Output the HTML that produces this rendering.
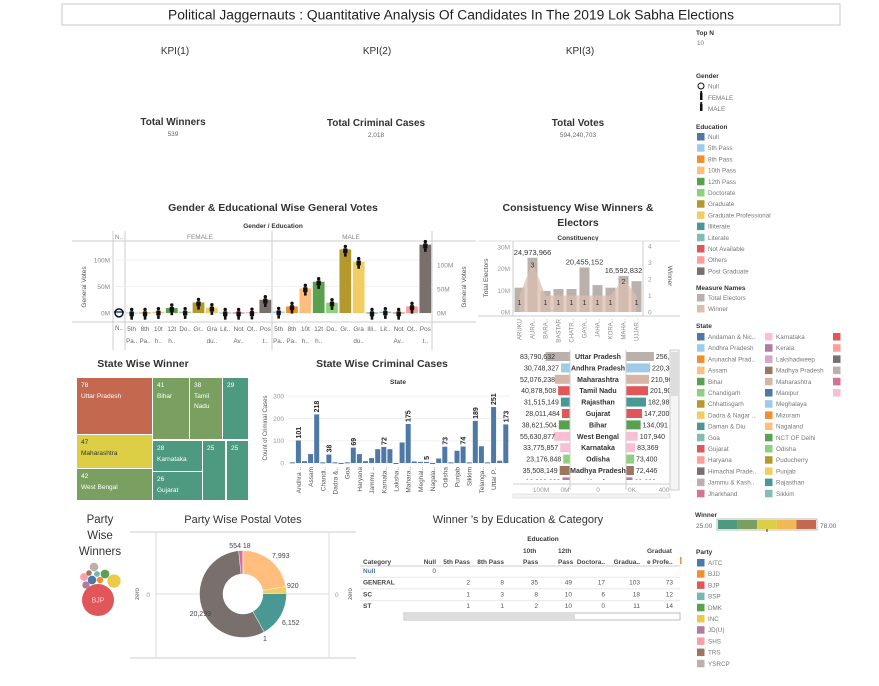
<!DOCTYPE html>
<html><head><meta charset="utf-8">
<style>
html,body{margin:0;padding:0;background:#fff;}
svg{display:block;font-family:"Liberation Sans",sans-serif;}
</style></head>
<body>
<svg id="dash" width="879" height="686" viewBox="0 0 879 686" xmlns="http://www.w3.org/2000/svg">
<rect width="879" height="686" fill="#fff"/>
<g>
<rect x="62" y="4" width="778" height="21" fill="#fff" stroke="#c8c8c8"/>
<text x="451" y="19.5" font-size="13.5" text-anchor="middle" fill="#222" textLength="566" lengthAdjust="spacingAndGlyphs">Political Jaggernauts : Quantitative Analysis Of Candidates In The 2019 Lok Sabha Elections</text>
</g>
<g fill="#333" text-anchor="middle">
<text x="175" y="54" font-size="10">KPI(1)</text>
<text x="377" y="54" font-size="10">KPI(2)</text>
<text x="580" y="54" font-size="10">KPI(3)</text>
<text x="173" y="125" font-size="10" font-weight="bold">Total Winners</text>
<text x="173" y="136" font-size="6.5" fill="#666">539</text>
<text x="376" y="126" font-size="10" font-weight="bold">Total Criminal Cases</text>
<text x="376" y="137" font-size="6.5" fill="#666">2,018</text>
<text x="578" y="126" font-size="10" font-weight="bold">Total Votes</text>
<text x="578" y="137" font-size="6.5" fill="#666">594,240,703</text>
</g>
<g id="gender"></g>
<g id="const"></g>
<g id="tree"></g>
<g id="crim"></g>
<g id="stab"></g>
<g id="bub"></g>
<g id="donut"></g>
<g id="ctab"></g>
<g id="leg"></g>
</svg>
<script>
// ---------- data ----------
const eduNames=["Null","5th Pass","8th Pass","10th Pass","12th Pass","Doctorate","Graduate","Graduate Professional","Illiterate","Literate","Not Available","Others","Post Graduate"];
const eduColors=["#4e79a7","#a0cbe8","#f28e2b","#ffbe7d","#59a14f","#8cd17d","#b6992d","#f1ce63","#499894","#86bcb6","#e15759","#ff9d9a","#79706e"];
const nullVotes=[4];
const femaleEdu=[1,2,3,4,5,6,7,9,10,11,12];
const femaleVotes=[1,1,2.5,9.5,2.5,20,10,1,1,1.5,25];
const maleEdu=[1,2,3,4,5,6,7,8,9,10,11,12];
const maleVotes=[3,12.5,46.5,59,19.5,120,97,1,2.5,1,12.5,129];
const femaleLabels=[["5th","Pa.."],["8th","Pa.."],["10t","h.."],["12t","h.."],["Do..",""],["Gr..",""],["Gra","du.."],["Lit..",""],["Not","Av.."],["Ot..",""],["Pos","t.."]];
const maleLabels=[["5th","Pa.."],["8th","Pa.."],["10t","h.."],["12t","h.."],["Do..",""],["Gr..",""],["Gra","du.."],["Illi..",""],["Lit..",""],["Not","Av.."],["Ot..",""],["Pos","t.."]];
const genderTicks=[0,50,100];

const constNames=["ARUKU","AURA..","BARA..","BASTAR","CHATR..","GAYA..","JAHA..","KORA..","MAHA..","UJJAR.."];
const constElectors=[11.2,25.0,9.7,10.6,10.6,20.5,12.4,11.2,16.6,14.2];
const constWinners=[1,3,1,1,1,1,1,1,2,1];
const constBigLabels=["","24,973,966","","","","20,455,152","","","16,592,832",""];
const electorTicks=[0,10,20,30];
const winnerTicks=[0,1,2,3,4];

const crimStates=["Andaman & Nicobar","Andhra Pradesh","Arunachal Pradesh","Assam","Bihar","Chandigarh","Chhattisgarh","Dadra & Nagar Haveli","Daman & Diu","Goa","Gujarat","Haryana","Himachal Pradesh","Jammu & Kashmir","Jharkhand","Karnataka","Kerala","Lakshadweep","Madhya Pradesh","Maharashtra","Manipur","Meghalaya","Mizoram","Nagaland","NCT OF Delhi","Odisha","Puducherry","Punjab","Rajasthan","Sikkim","Tamil Nadu","Telangana","Tripura","Uttar Pradesh","Uttarakhand","West Bengal"];
const crimCounts=[3,101,8,40,218,3,38,3,0,3,69,40,8,22,62,72,62,0,92,175,7,5,5,0,20,73,3,55,74,3,189,75,3,251,10,173];
const crimShownLabels=[1,4,6,10,15,19,22,25,28,30,33,35];
const crimAxisLabels=["Andhra ..","Assam","Chandi..","Dadra &..","Goa","Haryana","Jammu ..","Karnata..","Laksha..","Mahara..","Meghal..","Nagala..","Odisha","Punjab","Sikkim","Telanga..","Uttar P.."];
const crimTicks=[0,100,200,300];

const tabStates=["Uttar Pradesh","Andhra Pradesh","Maharashtra","Tamil Nadu","Rajasthan","Gujarat","Bihar","West Bengal","Karnataka","Odisha","Madhya Pradesh","Kerala"];
const tabElectors=[83790632,30748327,52076238,40878508,31515149,28011484,38621504,55630877,33775857,23176848,35508149,26000000];
const tabVotes=[256000,220300,210900,201900,182980,147200,134091,107940,83369,73400,72446,60000];
const tabColors=["#bab0ac","#a0cbe8","#d7b5a6","#e15759","#499894","#e15759","#59a14f","#fabfd2","#fabfd2","#8cd17d","#9d7660","#b07aa1"];

const treeNames=["Uttar Pradesh","Maharashtra","West Bengal","Bihar","Tamil Nadu","","Karnataka","Gujarat","",""];
const treeValues=[78,47,42,41,38,29,28,26,25,25];

const bubParties=["BJP","INC","YSRCP","SHS","TRS","BSP","DMK","AITC","BJD","JD(U)"];
const bubWinners=[303,52,22,18,9,10,23,22,12,16];
const bubColors=["#e15759","#edc948","#bab0ac","#ff9da7","#9c755f","#76b7b2","#59a14f","#4e79a7","#f28e2b","#b07aa1"];

const postalParts=["A","B","C","D","E","F","G"];
const postalValues=[7993,920,6152,1,20299,554,18];
const postalColors=["#ffbe7d","#f1ce63","#499894","#4e79a7","#79706e","#d37295","#e15759"];

const catRows=["Null","GENERAL","SC","ST"];
const catCols=["Null","5th Pass","8th Pass","10th Pass","12th Pass","Doctora..","Gradua..","Graduate Profe.."];
const catNull=[0,null,null,null];
const cat5th=[null,2,1,1];
const cat8th=[null,8,3,1];
const cat10th=[null,35,8,2];
const cat12th=[null,49,10,10];
const catDoc=[null,17,6,0];
const catGrad=[null,103,18,11];
const catGP=[null,73,12,14];

// ---------- helpers ----------
const NS="http://www.w3.org/2000/svg";
function mk(parent,tag,attrs,txt){const e=document.createElementNS(NS,tag);for(const k in attrs)e.setAttribute(k,attrs[k]);if(txt!==undefined)e.textContent=txt;parent.appendChild(e);return e;}
function tx(p,x,y,s,size,fill,anchor,extra){const a=Object.assign({x:x,y:y,'font-size':size,fill:fill||'#555','text-anchor':anchor||'start'},extra||{});return mk(p,'text',a,s);}
function fmt(n){return n.toLocaleString('en-US');}

// ---------- gender chart ----------
(function(){
const g=document.getElementById('gender');
tx(g,273,211,"Gender & Educational Wise General Votes",10.5,'#333','middle',{'font-weight':'bold'});
tx(g,273,228,"Gender / Education",6.5,'#333','middle',{'font-weight':'bold'});
const y=v=>313-v*0.53, yR=v=>313-v*0.48;
mk(g,'line',{x1:72,y1:241,x2:476,y2:241,stroke:'#ccc'});
mk(g,'line',{x1:72,y1:322,x2:476,y2:322,stroke:'#ccc'});
[113,125,272,432].forEach(x=>mk(g,'line',{x1:x,y1:231,x2:x,y2:350,stroke:'#ccc'}));
tx(g,119,239,"N..",6.5,'#888','middle');
tx(g,200,239,"FEMALE",6.5,'#888','middle');
tx(g,351,239,"MALE",6.5,'#888','middle');
genderTicks.forEach(t=>{mk(g,'line',{x1:113,x2:432,y1:y(t),y2:y(t),stroke:'#f0f0f0'});tx(g,110,y(t)+2.5,t+"M",6.5,'#888','end');tx(g,437,yR(t)+2.5,t+"M",6.5,'#888','start');});
tx(g,0,0,"General Votes",6.5,'#555','middle',{transform:'translate(86,287) rotate(-90)'});
tx(g,0,0,"General Votes",6.5,'#555','middle',{transform:'translate(466,287) rotate(-90)'});
function person(cx,yt){mk(g,'circle',{cx:cx,cy:yt-4,r:1.7,fill:'#111'});mk(g,'rect',{x:cx-2.2,y:yt-2.2,width:4.4,height:5.2,rx:1,fill:'#111'});mk(g,'rect',{x:cx-1.3,y:yt+3,width:2.6,height:3.2,fill:'#111'});}
const nb=mk(g,'rect',{x:114,y:y(nullVotes[0]),width:10,height:313-y(nullVotes[0]),fill:eduColors[0]});


mk(g,'circle',{cx:119,cy:y(nullVotes[0])+2,r:4,fill:'none',stroke:'#111','stroke-width':1.5});
tx(g,119,330,"N..",6.3,'#666','middle');
function series(edu,vals,labels,x0,w,gender){vals.forEach((v,i)=>{const cx=x0+w*(i+0.5);const r=mk(g,'rect',{x:cx-w/2+0.8,y:y(v),width:w-1.6,height:Math.max(313-y(v),1),fill:eduColors[edu[i]]});


person(cx,y(v)+1);tx(g,cx,331,labels[i][0],6.3,'#666','middle');tx(g,cx,343,labels[i][1],6.3,'#666','middle');});}
series(femaleEdu,femaleVotes,femaleLabels,125,147/11,'female');
series(maleEdu,maleVotes,maleLabels,272,160/12,'male');
})();

// ---------- constituency ----------
(function(){
const g=document.getElementById('const');
tx(g,578,211,"Consistuency Wise Winners &",10.5,'#333','middle',{'font-weight':'bold'});
tx(g,578,226,"Electors",10.5,'#333','middle',{'font-weight':'bold'});
tx(g,578,240,"Constituency",6.5,'#333','middle',{'font-weight':'bold'});
const yE=v=>312-v*2.17, yW=v=>312-v*16.5, cx=i=>513+13*(i+0.5);
mk(g,'line',{x1:513,y1:241,x2:513,y2:316,stroke:'#ccc'});
mk(g,'line',{x1:643,y1:241,x2:643,y2:316,stroke:'#ccc'});
mk(g,'line',{x1:478,y1:241,x2:680,y2:241,stroke:'#ddd'});
mk(g,'line',{x1:478,y1:316,x2:680,y2:316,stroke:'#ccc'});
electorTicks.forEach(t=>tx(g,510,yE(t)+2.5,t+"M",6.5,'#999','end'));
winnerTicks.forEach(t=>tx(g,648,yW(t)+2.5,String(t),6.5,'#999','start'));
tx(g,0,0,"Total Electors",6.5,'#555','middle',{transform:'translate(488,278) rotate(-90)'});
tx(g,0,0,"Winner",6.5,'#555','middle',{transform:'translate(668,276) rotate(90)'});
constElectors.forEach((v,i)=>{const r=mk(g,'rect',{x:cx(i)-5,y:yE(v),width:10,height:312-yE(v),fill:'#bab0ac'});

});
let d="M"+cx(0)+",312";constWinners.forEach((v,i)=>d+=" L"+cx(i)+","+yW(v));d+=" L"+cx(constWinners.length-1)+",312 Z";
const a=mk(g,'path',{d:d,fill:'#dcbfb1','fill-opacity':0.75});


constWinners.forEach((v,i)=>{tx(g,cx(i),v>1?yW(v)+5:305,String(v),7,'#333','middle');});
constBigLabels.forEach((s,i)=>{if(s)tx(g,cx(i),yE(constElectors[i])-3,s,7.5,'#333','middle');});
constNames.forEach((s,i)=>tx(g,0,0,s,6,'#888','end',{transform:'translate('+(cx(i)+2)+',319) rotate(-90)'}));
})();

// ---------- treemap ----------
(function(){
const g=document.getElementById('tree');
tx(g,143,367,"State Wise Winner",10.5,'#333','middle',{'font-weight':'bold'});
const rects=[[77,378,75,56],[77,435,75,33],[77,469,75,31],[153,378,36,61],[190,378,32,61],[223,378,25,61],[153,441,49,30],[153,472,49,28],[203,441,22,59],[227,441,21,59]];
const col=v=>{if(v>=70)return '#c4694f';if(v>=45)return '#dccf45';if(v>=35)return '#79a061';return '#4e9a81';};
treeValues.forEach((v,i)=>{const r=rects[i];const e=mk(g,'rect',{x:r[0],y:r[1],width:r[2],height:r[3],fill:col(v)});


const fc=v>=45&&v<70?'#333':'#fff';tx(g,r[0]+4,r[1]+9,String(v),6.5,fc);
if(treeNames[i]){const parts=treeNames[i]==="Tamil Nadu"?["Tamil","Nadu"]:[treeNames[i]];parts.forEach((p,k)=>tx(g,r[0]+4,r[1]+20+k*10,p,6.5,fc));}});
})();

// ---------- criminal cases ----------
(function(){
const g=document.getElementById('crim');
tx(g,382,367,"State Wise Criminal Cases",10.5,'#333','middle',{'font-weight':'bold'});
tx(g,398,384,"State",6.5,'#333','middle',{'font-weight':'bold'});
const y=v=>463-v*0.223, cx=i=>292.3+6.1*i;
crimTicks.forEach(t=>{mk(g,'line',{x1:287,x2:510,y1:y(t),y2:y(t),stroke:'#f0f0f0'});tx(g,284,y(t)+2.5,String(t),6.5,'#999','end');});
tx(g,0,0,"Count of Criminal Cases",6,'#555','middle',{transform:'translate(267,428) rotate(-90)'});
crimCounts.forEach((v,i)=>{const r=mk(g,'rect',{x:cx(i)-2.5,y:y(v),width:5,height:Math.max(463-y(v),1),fill:'#4e79a7'});

});
crimShownLabels.forEach(i=>tx(g,0,0,String(crimCounts[i]),7,'#222','start',{'font-weight':'bold',transform:'translate('+(cx(i)+2.5)+','+(y(crimCounts[i])-2)+') rotate(-90)'}));
crimAxisLabels.forEach((s,k)=>tx(g,0,0,s,6.5,'#555','end',{transform:'translate('+(cx(2*k+1)+2.5)+',467) rotate(-90)'}));
})();

// ---------- state table ----------
(function(){
const g=document.getElementById('stab');
const clip=mk(g,'clipPath',{id:'stclip'});mk(clip,'rect',{x:513,y:350,width:157,height:130});
const inner=mk(g,'g',{'clip-path':'url(#stclip)'});
mk(g,'line',{x1:570,y1:350,x2:570,y2:490,stroke:'#ccc'});
mk(g,'line',{x1:626,y1:350,x2:626,y2:490,stroke:'#ccc'});
tabStates.forEach((s,i)=>{const yc=356.5+11.4*i;const wl=tabElectors[i]/1e6*0.29;
const b=mk(inner,'rect',{x:570-wl,y:yc-4.5,width:wl,height:9,fill:tabColors[i]});


tx(inner,Math.max(570-wl-2,555),yc+2.5,fmt(tabElectors[i]),7,'#333','end');
tx(inner,598,yc+2.5,s,7,'#333','middle',{'font-weight':'bold'});
const wr=tabVotes[i]/1000*0.109;
const b2=mk(inner,'rect',{x:626,y:yc-4.5,width:wr,height:9,fill:tabColors[i]});


tx(inner,626+wr+2,yc+2.5,fmt(tabVotes[i]),7,'#333','start');});
mk(g,'line',{x1:513,y1:484,x2:670,y2:484,stroke:'#ccc'});
tx(g,541,492,"100M",6.5,'#999','middle');tx(g,565,492,"0M",6.5,'#999','middle');tx(g,598,492,"0",6.5,'#999','middle');tx(g,632,492,"0K",6.5,'#999','middle');tx(g,664,492,"400",6.5,'#999','middle');
const sb=mk(g,'rect',{x:670,y:350,width:9,height:140,fill:'#f4f4f4',stroke:'#ccc'});


mk(g,'rect',{x:671,y:352,width:7,height:44,fill:'#ddd'});
mk(g,'rect',{x:513,y:494,width:157,height:4,fill:'#f4f4f4',stroke:'#ccc','stroke-width':0.5});
})();

// ---------- bubbles ----------
(function(){
const g=document.getElementById('bub');
["Party","Wise","Winners"].forEach((s,i)=>tx(g,100,523+16*i,s,11.5,'#333','middle'));
const pos=[[98,600],[114,581],[94,567],[84,577],[89,573],[97,574],[105,574],[92,580],[100,580],[86,585]];
const rad=v=>Math.sqrt(v)*0.92;
bubWinners.forEach((v,i)=>{const c=mk(g,'circle',{cx:pos[i][0],cy:pos[i][1],r:rad(v),fill:bubColors[i]});

});
tx(g,98,602.5,"BJP",7,'#fcc','middle');
})();

// ---------- donut ----------
(function(){
const g=document.getElementById('donut');
tx(g,243,523,"Party Wise Postal Votes",11,'#333','middle');
mk(g,'line',{x1:130,y1:532,x2:356,y2:532,stroke:'#ccc'});
mk(g,'line',{x1:130,y1:658,x2:356,y2:658,stroke:'#ccc'});
mk(g,'line',{x1:156,y1:532,x2:156,y2:658,stroke:'#ddd'});
mk(g,'line',{x1:329,y1:532,x2:329,y2:658,stroke:'#ddd'});
mk(g,'line',{x1:156,y1:594,x2:329,y2:594,stroke:'#ddd'});
tx(g,150,597,"0",6.5,'#999','end');tx(g,335,597,"0",6.5,'#999','start');
tx(g,0,0,"zero",6,'#555','middle',{transform:'translate(139,594) rotate(-90)'});
tx(g,0,0,"zero",6,'#555','middle',{transform:'translate(352,594) rotate(-90)'});
const cx=243,cy=594,R=43.5,r=20;const tot=postalValues.reduce((a,b)=>a+b,0);let a0=0;
postalValues.forEach((v,i)=>{const a1=a0+v/tot*2*Math.PI;const p=(a,rr)=>[cx+rr*Math.sin(a),cy-rr*Math.cos(a)];const lg=(a1-a0)>Math.PI?1:0;
const [x0,y0]=p(a0,R),[x1,y1]=p(a1,R),[x2,y2]=p(a1,r),[x3,y3]=p(a0,r);
const s=mk(g,'path',{d:`M${x0},${y0} A${R},${R} 0 ${lg} 1 ${x1},${y1} L${x2},${y2} A${r},${r} 0 ${lg} 0 ${x3},${y3} Z`,fill:postalColors[i],stroke:'#fff','stroke-width':0.4});


a0=a1;});
mk(g,'circle',{cx:cx,cy:cy,r:r,fill:'#fff'});
tx(g,240,548,fmt(postalValues[5])+" "+fmt(postalValues[6]),7,'#444','middle');
tx(g,272,558,fmt(postalValues[0]),7,'#444','start');
tx(g,287,588,fmt(postalValues[1]),7,'#444','start');
tx(g,282,625,fmt(postalValues[2]),7,'#444','start');
tx(g,265,641,fmt(postalValues[3]),7,'#444','middle');
tx(g,211,616,fmt(postalValues[4]),7,'#444','end');
})();

// ---------- category table ----------
(function(){
const g=document.getElementById('ctab');
tx(g,518,523,"Winner \u2019s by Education & Category",11,'#333','middle');
tx(g,543,541,"Education",6.5,'#333','middle',{'font-weight':'bold'});
const ends=[436,470,504,538,572,605,640,673];
tx(g,363,564,"Category",6.5,'#444','start',{'font-weight':'bold'});
const h1=["","","","10th","12th","","","Graduat"],h2=["Null","5th Pass","8th Pass","Pass","Pass","Doctora..","Gradua..","e Profe.."];
const lefts=[null,null,null,523,558,null,null,647];
h2.forEach((s,i)=>{if(lefts[i]){tx(g,lefts[i],553,h1[i],6.5,'#444','start',{'font-weight':'bold'});tx(g,lefts[i],564,s,6.5,'#444','start',{'font-weight':'bold'});}else tx(g,ends[i],564,s,6.5,'#444','end',{'font-weight':'bold'});});
mk(g,'rect',{x:680,y:557,width:1.5,height:7,fill:'#f28e2b'});
mk(g,'line',{x1:360,y1:566,x2:680,y2:566,stroke:'#ccc'});
const cols=[catNull,cat5th,cat8th,cat10th,cat12th,catDoc,catGrad,catGP];
catRows.forEach((rn,ri)=>{const yy=573+11.7*ri;
if(ri>0)mk(g,'line',{x1:360,y1:yy-7.5,x2:680,y2:yy-7.5,stroke:'#e8e8e8'});
tx(g,363,yy,rn,6.5,ri==0?'#4e79a7':'#444','start',{'font-weight':'bold'});
cols.forEach((c,ci)=>{if(c[ri]!==null)tx(g,ends[ci],yy,String(c[ri]),6.5,'#555','end');});});
const sb=mk(g,'rect',{x:404,y:613,width:276,height:7,fill:'#fff',stroke:'#bbb'});


mk(g,'rect',{x:405,y:614,width:170,height:5,fill:'#ddd'});
})();

// ---------- legends ----------
(function(){
const g=document.getElementById('leg');
const T=(x,y,s,b)=>tx(g,x,y,s,b?6.5:6.3,b?'#333':'#777','start',b?{'font-weight':'bold'}:{});
const sw=(x,y,c,name)=>{const r=mk(g,'rect',{x:x,y:y-6,width:7.5,height:7.5,fill:c});};
T(696,35,"Top N",true);T(697,45,"10");
T(696,78,"Gender",true);
mk(g,'circle',{cx:701,cy:86,r:3,fill:'none',stroke:'#111'});T(708,88.5,"Null");
[98,109].forEach(yy=>{mk(g,'rect',{x:700,y:yy-5,width:2.5,height:7,fill:'#111'});mk(g,'circle',{cx:701.2,cy:yy-6,r:1.1,fill:'#111'});});
T(708,100,"FEMALE");T(708,111,"MALE");
T(696,129,"Education",true);
eduNames.forEach((s,i)=>{const yy=139+11.2*i;sw(697,yy,eduColors[i],'legend-edu-'+i);T(708,yy,s);});
T(696,290,"Measure Names",true);
sw(697,300,'#bab0ac','legend-total-electors');T(708,300,"Total Electors");
sw(697,311,'#dcbfb1','legend-winner');T(708,311,"Winner");
T(696,328,"State",true);
const sc1=["#4e79a7","#a0cbe8","#f28e2b","#ffbe7d","#59a14f","#8cd17d","#b6992d","#f1ce63","#499894","#86bcb6","#e15759","#ff9d9a","#79706e","#bab0ac","#d37295"];
const sc2=["#fabfd2","#b07aa1","#d4a6c8","#9d7660","#d7b5a6","#4e79a7","#a0cbe8","#f28e2b","#ffbe7d","#59a14f","#8cd17d","#b6992d","#f1ce63","#499894","#86bcb6"];
const sc3=["#e15759","#ff9d9a","#79706e","#bab0ac","#d37295","#fabfd2"];
const sn1=["Andaman & Nic..","Andhra Pradesh","Arunachal Prad..","Assam","Bihar","Chandigarh","Chhattisgarh","Dadra & Nagar ..","Daman & Diu","Goa","Gujarat","Haryana","Himachal Prade..","Jammu & Kash..","Jharkhand"];
const sn2=["Karnataka","Kerala","Lakshadweep","Madhya Pradesh","Maharashtra","Manipur","Meghalaya","Mizoram","Nagaland","NCT OF Delhi","Odisha","Puducherry","Punjab","Rajasthan","Sikkim"];
sn1.forEach((s,i)=>{const yy=339+11.2*i;sw(697,yy,sc1[i],'legend-state-a'+i);T(708,yy,s);});
sn2.forEach((s,i)=>{const yy=339+11.2*i;sw(765,yy,sc2[i],'legend-state-b'+i);T(776,yy,s);});
sc3.forEach((c,i)=>{const yy=339+11.2*i;sw(833,yy,c,'legend-state-c'+i);});
T(695,517,"Winner",true);
tx(g,696,528,"25.00",6.5,'#666');tx(g,820,528,"78.00",6.5,'#666');
const wc=["#4e9a81","#79a061","#dccf45","#f2b851","#c4694f"];
mk(g,'rect',{x:717,y:519,width:100,height:11,fill:'#fff',stroke:'#bbb'});
wc.forEach((c,i)=>mk(g,'rect',{x:718+19.6*i,y:520,width:19.6,height:9,fill:c}));
mk(g,'line',{x1:767,y1:529,x2:767,y2:532,stroke:'#333'});
T(696,554,"Party",true);
const pn=["AITC","BJD","BJP","BSP","DMK","INC","JD(U)","SHS","TRS","YSRCP"];
const pc=["#4e79a7","#f28e2b","#e15759","#76b7b2","#59a14f","#edc948","#b07aa1","#ff9da7","#9c755f","#bab0ac"];
pn.forEach((s,i)=>{const yy=565+11.2*i;sw(697,yy,pc[i],'legend-party-'+s.toLowerCase());T(708,yy,s);});
})();
</script>
</body></html>
